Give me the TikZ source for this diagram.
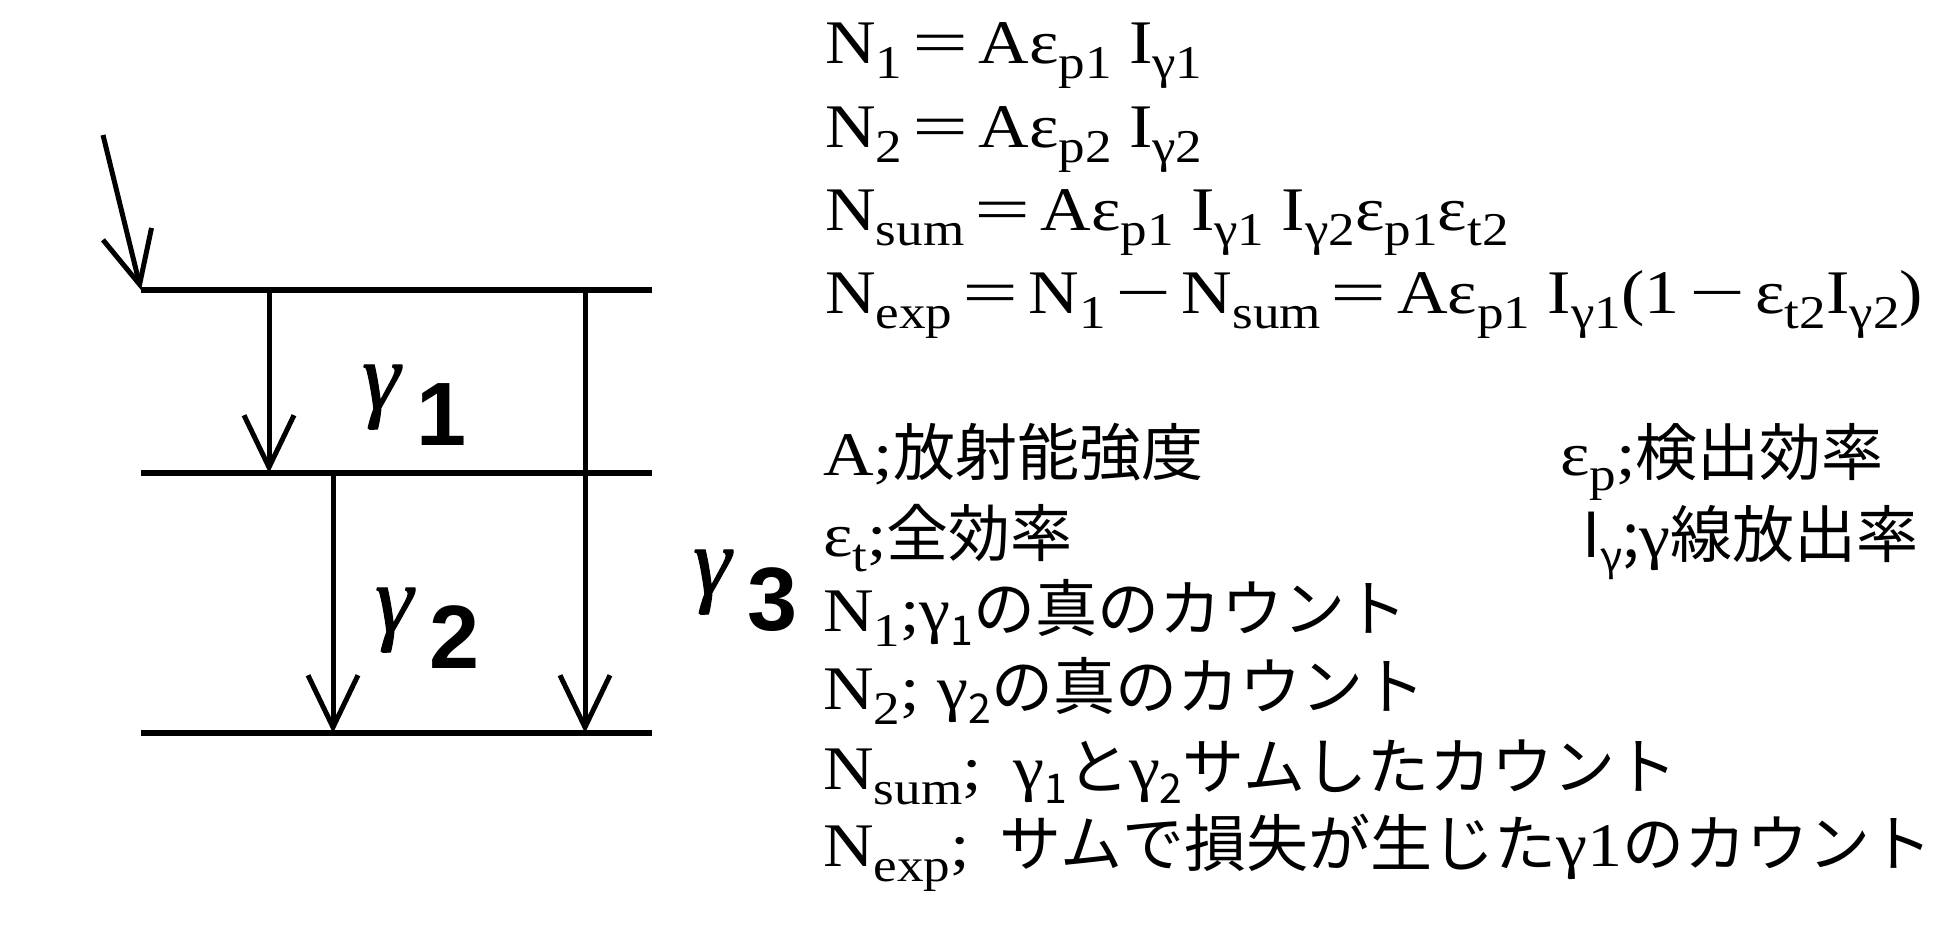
\documentclass[tikz,border=0pt]{standalone}
\usepackage{fontspec}
\usepackage{graphicx}
\setmainfont{Liberation Serif}[FakeStretch=1.13]
\newfontfamily\jp{Noto Sans CJK JP}
\newfontfamily\lblg{Liberation Serif Italic}[FakeBold=1.2]
\newfontfamily\lbld{Liberation Sans}
\usetikzlibrary{arrows.meta}
\newcommand\sbs[1]{\raisebox{-15pt}{\fontsize{47}{47}\selectfont #1}}
\newcommand\jsb[1]{\raisebox{-14pt}{\jp\fontsize{41}{41}\selectfont #1}}
\newcommand\eqop{\hspace{10pt}\scalebox{1.42}[1]{=}\hspace{10pt}}
\newcommand\mnop{\hspace{10pt}\scalebox{1.42}[1]{−}\hspace{10pt}}
\newcommand\glab[1]{{\lblg\fontsize{96}{96}\selectfont\raisebox{36pt}{γ}}\hspace{16pt}{\lbld\bfseries\fontsize{90}{90}\selectfont #1}}
\begin{document}
\begin{tikzpicture}[x=1pt,y=-1pt,
  lvl/.style={line width=6.5pt},
  tr/.style={line width=5pt,-{Straight Barb[length=52pt,width=50pt]}},
  eq/.style={anchor=base west,inner sep=0pt,font=\fontsize{62}{62}\selectfont},
  lab/.style={anchor=base west,inner sep=0pt}]
\useasboundingbox (0,0) rectangle (1939,946);
\fill[white] (0,0) rectangle (1939,946);
% levels
\coordinate (L1w) at (141,290); \coordinate (L1e) at (652,290);
\coordinate (L2w) at (141,473); \coordinate (L2e) at (652,473);
\coordinate (L3w) at (141,733); \coordinate (L3e) at (652,733);
\draw[lvl] (L1w) -- (L1e);
\draw[lvl] (L2w) -- (L2e);
\draw[lvl] (L3w) -- (L3e);
% transitions
\coordinate (src) at (103,135);
\coordinate (g1s) at (269,290); \coordinate (g1e) at (269,473);
\coordinate (g2s) at (333,473); \coordinate (g2e) at (333,733);
\coordinate (g3s) at (585,290); \coordinate (g3e) at (585,733);
\draw[tr] (src) -- (L1w);
\draw[tr] (g1s) -- (g1e);
\draw[tr] (g2s) -- (g2e);
\draw[tr] (g3s) -- (g3e);
% labels
\node[lab] (lg1) at (362,445) {\glab{1}};
\node[lab] (lg2) at (375,668) {\glab{2}};
\node[lab] (lg3) at (693,630) {\glab{3}};
% equations
\node[eq] (e1) at (825,63) {N\sbs{1}\eqop Aε\sbs{p1} I\sbs{γ1}};
\node[eq] (e2) at (825,147) {N\sbs{2}\eqop Aε\sbs{p2} I\sbs{γ2}};
\node[eq] (e3) at (825,230) {N\sbs{sum}\eqop Aε\sbs{p1} I\sbs{γ1} I\sbs{γ2}ε\sbs{p1}ε\sbs{t2}};
\node[eq] (e4) at (825,313) {N\sbs{exp}\eqop N\sbs{1}\mnop N\sbs{sum}\eqop Aε\sbs{p1} I\sbs{γ1}(1\mnop ε\sbs{t2}I\sbs{γ2})};
% definitions
\node[eq] (d1) at (823,475) {A;{\jp 放射能強度}};
\node[eq] (d2) at (823,556) {ε\sbs{t};{\jp 全効率}};
\node[eq] (d3) at (823,631) {N\sbs{1};γ\jsb{1}{\jp の真のカウント}};
\node[eq] (d4) at (823,709) {N\sbs{2}; γ\jsb{2}{\jp の真のカウント}};
\node[eq] (d5) at (823,789) {N\sbs{sum};\hspace{14pt} γ\jsb{1}{\jp と}γ\jsb{2}{\jp サムしたカウント}};
\node[eq] (d6) at (823,866) {N\sbs{exp};\hspace{12pt} {\jp サムで損失が生じた}γ1{\jp のカウント}};
\node[eq] (r1) at (1560,475) {ε\sbs{p};{\jp 検出効率}};
\node[eq] (r2) at (1582,557) {{\jp I\jsb{γ};}γ{\jp 線放出率}};
\end{tikzpicture}
\end{document}
